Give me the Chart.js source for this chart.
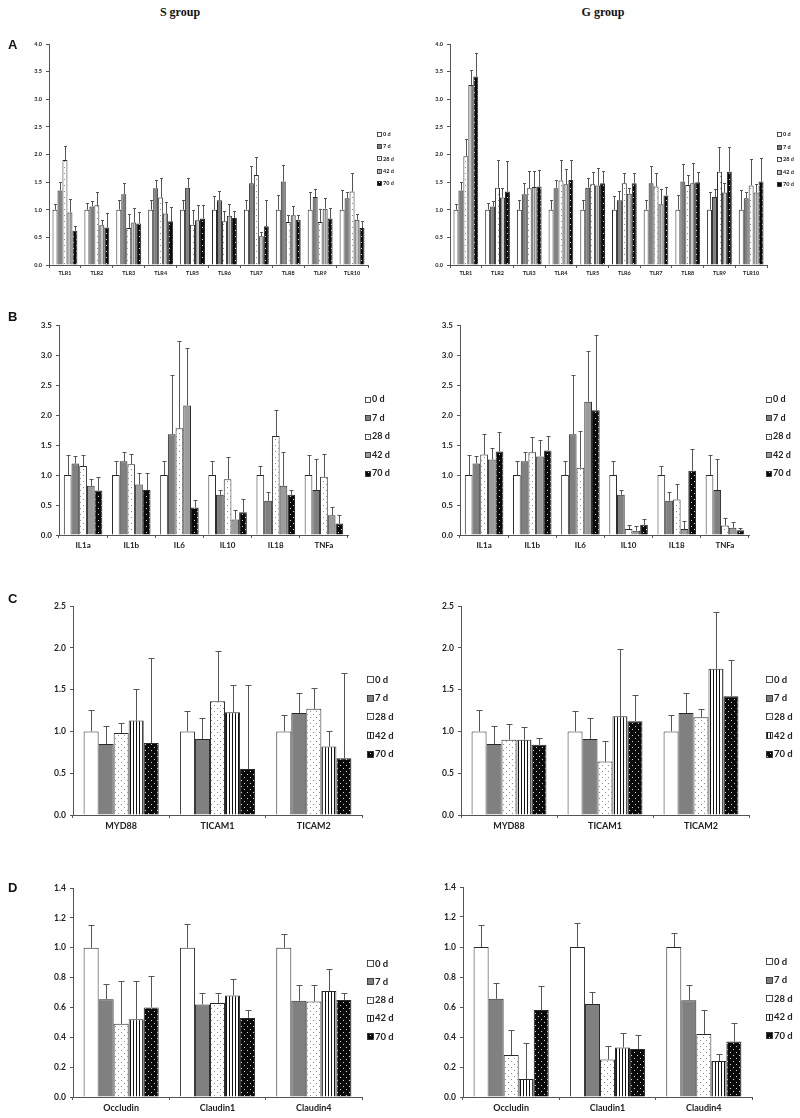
<!DOCTYPE html>
<html>
<head>
<meta charset="utf-8">
<script src="https://cdn.jsdelivr.net/npm/chart.js@4"></script>
<style>
  body { margin: 0; background: #fff; width: 800px; height: 1118px; position: relative; overflow: hidden; }
  canvas { position: absolute; }
  .hdr { position: absolute; font: bold 12px "Liberation Serif", serif; transform: translateX(-50%); color: #111; }
  .lt { position: absolute; font: bold 13px "Liberation Sans", Arial, sans-serif; color: #111; }
</style>
</head>
<body>
<div class="hdr" style="left:180px;top:5px">S group</div>
<div class="hdr" style="left:603px;top:5px">G group</div>

<canvas id="aS"></canvas><canvas id="aG"></canvas>
<canvas id="bS"></canvas><canvas id="bG"></canvas>
<canvas id="cS"></canvas><canvas id="cG"></canvas>
<canvas id="dS"></canvas><canvas id="dG"></canvas>

<div class="lt" style="left:8px;top:37px">A</div>
<div class="lt" style="left:8px;top:309px">B</div>
<div class="lt" style="left:8px;top:591px">C</div>
<div class="lt" style="left:8px;top:880px">D</div>

<script>
const days = ["0 d", "7 d", "28 d", "42 d", "70 d"];
const tlrGenes = ["TLR1", "TLR2", "TLR3", "TLR4", "TLR5", "TLR6", "TLR7", "TLR8", "TLR9", "TLR10"];
const ilGenes = ["IL1a", "IL1b", "IL6", "IL10", "IL18", "TNFa"];
const adaptorGenes = ["MYD88", "TICAM1", "TICAM2"];
const junctionGenes = ["Occludin", "Claudin1", "Claudin4"];

// one row per day (0, 7, 28, 42, 70 d), one value per gene
// *Top = upper end of the error bar
const tlrS = [
  [1, 1, 1, 1, 1, 1, 1, 1, 1, 1],
  [1.35, 1.06, 1.28, 1.39, 1.40, 1.17, 1.48, 1.51, 1.23, 1.21],
  [1.90, 1.08, 0.67, 1.22, 0.73, 0.79, 1.63, 0.78, 0.78, 1.33],
  [0.95, 0.72, 0.77, 0.93, 0.81, 0.89, 0.52, 0.90, 1.02, 0.82],
  [0.62, 0.68, 0.75, 0.79, 0.84, 0.85, 0.70, 0.82, 0.84, 0.67]
];
const tlrSTop = [
  [1.10, 1.13, 1.18, 1.18, 1.18, 1.24, 1.18, 1.26, 1.33, 1.35],
  [1.50, 1.16, 1.48, 1.54, 1.58, 1.34, 1.79, 1.81, 1.38, 1.32],
  [2.15, 1.32, 0.93, 1.57, 1.00, 0.98, 1.95, 0.91, 1.02, 1.67],
  [1.20, 0.82, 1.03, 1.14, 1.09, 1.10, 0.60, 1.07, 1.22, 0.92],
  [0.70, 0.94, 0.96, 1.05, 1.09, 0.97, 1.18, 0.90, 1.03, 0.80]
];
const tlrG = [
  [1, 1, 1, 1, 1, 1, 1, 1, 1, 1],
  [1.35, 1.06, 1.28, 1.39, 1.40, 1.17, 1.48, 1.51, 1.23, 1.21],
  [1.97, 1.40, 1.39, 1.53, 1.46, 1.48, 1.42, 1.45, 1.69, 1.44],
  [3.26, 1.22, 1.41, 1.46, 1.44, 1.29, 1.10, 1.48, 1.31, 1.31],
  [3.41, 1.33, 1.42, 1.54, 1.48, 1.48, 1.26, 1.50, 1.69, 1.51]
];
const tlrGTop = [
  [1.10, 1.13, 1.18, 1.18, 1.18, 1.24, 1.18, 1.26, 1.33, 1.35],
  [1.50, 1.16, 1.48, 1.54, 1.58, 1.34, 1.79, 1.82, 1.38, 1.32],
  [2.28, 1.90, 1.70, 1.90, 1.69, 1.66, 1.67, 1.63, 2.14, 1.92],
  [3.53, 1.40, 1.71, 1.74, 1.76, 1.40, 1.38, 1.84, 1.49, 1.47],
  [3.84, 1.89, 1.72, 1.90, 1.71, 1.66, 1.42, 1.69, 2.14, 1.94]
];

const ilS = [
  [1, 1, 1, 1, 1, 1],
  [1.19, 1.23, 1.68, 0.67, 0.57, 0.75],
  [1.15, 1.18, 1.78, 0.93, 1.65, 0.97],
  [0.82, 0.84, 2.16, 0.26, 0.82, 0.33],
  [0.74, 0.75, 0.46, 0.38, 0.67, 0.19]
];
const ilSTop = [
  [1.34, 1.24, 1.24, 1.24, 1.15, 1.33],
  [1.31, 1.39, 2.67, 0.75, 0.71, 1.27],
  [1.33, 1.35, 3.23, 1.30, 2.08, 1.35],
  [0.93, 1.04, 3.12, 0.42, 1.39, 0.46],
  [0.96, 1.03, 0.59, 0.60, 0.75, 0.34]
];
const ilG = [
  [1, 1, 1, 1, 1, 1],
  [1.19, 1.23, 1.68, 0.67, 0.57, 0.75],
  [1.34, 1.38, 1.12, 0.10, 0.59, 0.16],
  [1.26, 1.31, 2.22, 0.07, 0.10, 0.12],
  [1.39, 1.41, 2.08, 0.17, 1.07, 0.08]
];
const ilGTop = [
  [1.34, 1.24, 1.24, 1.24, 1.15, 1.33],
  [1.31, 1.39, 2.67, 0.75, 0.71, 1.27],
  [1.69, 1.64, 1.73, 0.16, 0.85, 0.28],
  [1.45, 1.59, 3.06, 0.15, 0.23, 0.22],
  [1.72, 1.65, 3.33, 0.26, 1.43, 0.12]
];

const adS = [[1, 1, 1], [0.85, 0.91, 1.22], [0.98, 1.36, 1.27], [1.13, 1.23, 0.82], [0.86, 0.55, 0.68]];
const adSTop = [[1.26, 1.25, 1.20], [1.06, 1.16, 1.46], [1.10, 1.96, 1.52], [1.51, 1.56, 1.01], [1.88, 1.56, 1.70]];
const adG = [[1, 1, 1], [0.85, 0.91, 1.22], [0.90, 0.64, 1.17], [0.90, 1.18, 1.75], [0.84, 1.12, 1.42]];
const adGTop = [[1.26, 1.25, 1.20], [1.06, 1.16, 1.46], [1.09, 0.89, 1.27], [1.05, 1.99, 2.43], [0.92, 1.44, 1.86]];

const tjS = [[1, 1, 1], [0.655, 0.62, 0.645], [0.49, 0.63, 0.64], [0.52, 0.68, 0.71], [0.60, 0.53, 0.65]];
const tjSTop = [[1.15, 1.16, 1.09], [0.76, 0.70, 0.75], [0.78, 0.70, 0.75], [0.78, 0.79, 0.86], [0.81, 0.58, 0.70]];
const tjG = [[1, 1, 1], [0.655, 0.62, 0.645], [0.28, 0.25, 0.42], [0.12, 0.33, 0.24], [0.58, 0.32, 0.37]];
const tjGTop = [[1.15, 1.16, 1.09], [0.76, 0.70, 0.75], [0.45, 0.34, 0.58], [0.36, 0.43, 0.29], [0.74, 0.41, 0.49]];

const FONT = "Lato, 'Open Sans', sans-serif";
const INK = "#222";
const AXIS = "#555";

function makePattern(ctx, bg, fg, kind) {
  const c = document.createElement("canvas");
  const g = c.getContext("2d");
  if (kind === "dots") {
    c.width = 6; c.height = 6;
    g.fillStyle = bg; g.fillRect(0, 0, 6, 6);
    g.fillStyle = fg;
    g.fillRect(1, 1, 1, 1);
    g.fillRect(4, 4, 1, 1);
  } else {
    c.width = 3; c.height = 2;
    g.fillStyle = bg; g.fillRect(0, 0, 3, 2);
    g.fillStyle = fg; g.fillRect(1, 0, 1, 2);
  }
  return ctx.createPattern(c, "repeat");
}

function fills(ctx, style) {
  let f42;
  if (style === "A") f42 = makePattern(ctx, "#c8c8c8", "#909090", "lines");
  else if (style === "B") f42 = "#9c9c9c";
  else f42 = makePattern(ctx, "#ffffff", "#111111", "lines");
  return [
    "#ffffff",
    "#808080",
    makePattern(ctx, "#ffffff", "#8a8a8a", "dots"),
    f42,
    makePattern(ctx, "#0a0a0a", "#d8d8d8", "dots")
  ];
}

const errorBars = {
  id: "errorBars",
  afterDatasetsDraw(chart, args, o) {
    const ctx = chart.ctx;
    const y = chart.scales.y;
    ctx.save();
    ctx.strokeStyle = o.color;
    ctx.lineWidth = 1;
    chart.data.datasets.forEach((ds, i) => {
      chart.getDatasetMeta(i).data.forEach((bar, j) => {
        const top = Math.round(y.getPixelForValue(ds.errTop[j])) + 0.5;
        const x = Math.round(bar.x) + 0.5;
        ctx.beginPath();
        ctx.moveTo(x, bar.y);
        ctx.lineTo(x, top);
        ctx.moveTo(x - o.cap / 2, top);
        ctx.lineTo(x + o.cap / 2, top);
        ctx.stroke();
      });
    });
    ctx.restore();
  }
};

const sideLegend = {
  id: "sideLegend",
  afterDraw(chart, args, o) {
    const ctx = chart.ctx;
    ctx.save();
    ctx.font = "bold " + o.size + "px " + FONT;
    ctx.textBaseline = "middle";
    chart.data.datasets.forEach((ds, i) => {
      const cy = o.y + i * o.gap;
      const bx = Math.round(o.x) + 0.5;
      const by = Math.round(cy - o.box / 2) + 0.5;
      ctx.fillStyle = ds.backgroundColor;
      ctx.fillRect(bx, by, o.box, o.box);
      ctx.strokeStyle = INK;
      ctx.lineWidth = 0.8;
      ctx.strokeRect(bx, by, o.box, o.box);
      ctx.fillStyle = INK;
      ctx.fillText(ds.label, o.x + o.box + 2, cy + 0.5);
    });
    ctx.restore();
  }
};

function drawPanel(id, p) {
  const canvas = document.getElementById(id);
  const padL = 40, padT = 10, padB = 22, padR = 50;
  const left = p.ax - padL, top = p.ty - padT;
  canvas.width = p.rx - p.ax + padL + padR;
  canvas.height = p.by - p.ty + padT + padB;
  canvas.style.left = left + "px";
  canvas.style.top = top + "px";
  const ctx = canvas.getContext("2d");
  const colors = fills(ctx, p.style);

  new Chart(canvas, {
    type: "bar",
    data: {
      labels: p.labels,
      datasets: days.map((d, i) => ({
        label: d,
        data: p.mean[i],
        errTop: p.top[i],
        backgroundColor: colors[i],
        borderColor: "#2a2a2a",
        borderWidth: 1,
        barPercentage: 1,
        categoryPercentage: p.cat
      }))
    },
    options: {
      responsive: false,
      animation: false,
      layout: { padding: { top: padT, right: padR, left: 0, bottom: 0 } },
      plugins: {
        legend: { display: false },
        tooltip: { enabled: false },
        errorBars: { cap: p.cap, color: "#555" },
        sideLegend: {
          x: p.lx - left, y: p.ly - top, gap: p.lgap,
          box: p.box, size: p.lsize
        }
      },
      scales: {
        x: {
          grid: { display: true, drawOnChartArea: false, offset: true, tickLength: 3, color: AXIS },
          border: { color: AXIS },
          ticks: {
            font: { family: FONT, size: p.xsize, weight: "bold" },
            color: INK, padding: p.xpad, maxRotation: 0, autoSkip: false
          },
          afterFit: s => { s.height = padB; }
        },
        y: {
          min: 0,
          max: p.max,
          grid: { drawOnChartArea: false, tickLength: 3, color: AXIS },
          border: { color: AXIS },
          ticks: {
            stepSize: p.step,
            font: { family: FONT, size: p.ysize, weight: "bold" },
            color: INK, padding: 4,
            callback: v => v.toFixed(1)
          },
          afterFit: s => { s.width = padL; }
        }
      }
    },
    plugins: [errorBars, sideLegend]
  });
}

const small = { style: "A", max: 4, step: 0.5, cat: 0.78, cap: 3, xsize: 5.5, ysize: 5.5, xpad: 2, box: 4, lsize: 5.5 };
drawPanel("aS", Object.assign({}, small, { labels: tlrGenes, mean: tlrS, top: tlrSTop,
  ax: 49, ty: 44, rx: 368, by: 265, lx: 377, ly: 134, lgap: 12.2 }));
drawPanel("aG", Object.assign({}, small, { labels: tlrGenes, mean: tlrG, top: tlrGTop,
  ax: 450, ty: 44, rx: 767, by: 265, lx: 777, ly: 134, lgap: 12.5 }));

const mid = { style: "B", max: 3.5, step: 0.5, cat: 0.8, cap: 4, xsize: 8, ysize: 8, xpad: 3, box: 5, lsize: 9 };
drawPanel("bS", Object.assign({}, mid, { labels: ilGenes, mean: ilS, top: ilSTop,
  ax: 59, ty: 325, rx: 348, by: 535, lx: 365, ly: 399, lgap: 18.5 }));
drawPanel("bG", Object.assign({}, mid, { labels: ilGenes, mean: ilG, top: ilGTop,
  ax: 460, ty: 325, rx: 749, by: 535, lx: 766, ly: 399, lgap: 18.5 }));

const big = { style: "C", cat: 0.78, cap: 6, xsize: 9, ysize: 8.5, xpad: 3, box: 6, lsize: 9.5 };
drawPanel("cS", Object.assign({}, big, { labels: adaptorGenes, mean: adS, top: adSTop, max: 2.5, step: 0.5,
  ax: 73, ty: 606, rx: 362, by: 815, lx: 367, ly: 679, lgap: 18.7 }));
drawPanel("cG", Object.assign({}, big, { labels: adaptorGenes, mean: adG, top: adGTop, max: 2.5, step: 0.5,
  ax: 461, ty: 606, rx: 749, by: 815, lx: 766, ly: 679, lgap: 18.7 }));

drawPanel("dS", Object.assign({}, big, { labels: junctionGenes, mean: tjS, top: tjSTop, max: 1.4, step: 0.2,
  ax: 73, ty: 888, rx: 362, by: 1097, lx: 367, ly: 963, lgap: 18.3 }));
drawPanel("dG", Object.assign({}, big, { labels: junctionGenes, mean: tjG, top: tjGTop, max: 1.4, step: 0.2,
  ax: 463, ty: 887, rx: 752, by: 1097, lx: 766, ly: 961, lgap: 18.5 }));
</script>
</body>
</html>
